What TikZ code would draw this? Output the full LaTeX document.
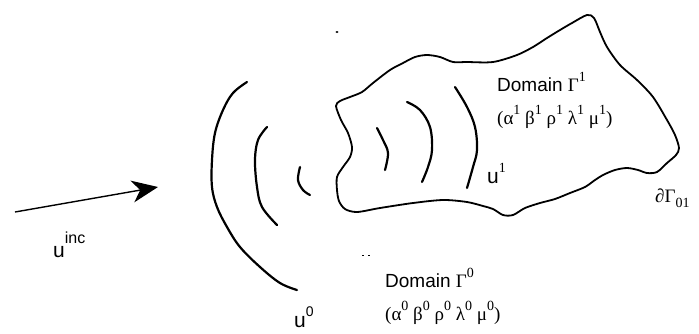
\documentclass[tikz,border=0pt]{standalone}
\usepackage{fontspec}
\setmainfont{Liberation Sans}
\newfontfamily\grk{Liberation Serif}
\usetikzlibrary{arrows.meta}
\newcommand\supx[1]{\raisebox{0.52em}{\fontsize{14}{14}\selectfont #1}}
\newcommand\subx[1]{\raisebox{-0.3em}{\fontsize{14}{14}\selectfont #1}}
\tikzset{
  outline/.style={line width=1.8pt, line join=round, line cap=round},
  wave/.style={line width=2.2pt, line cap=round},
  lbl/.style={inner sep=0pt, anchor=base west, font=\fontsize{19}{22}\selectfont},
  ulbl/.style={inner sep=0pt, anchor=base west, font=\fontsize{21}{24}\selectfont},
}
\begin{document}
\begin{tikzpicture}[x=1pt,y=-1pt]
\useasboundingbox (0,0) rectangle (699,333);
% Domain Gamma^1 outline
\draw[outline] plot[smooth cycle, tension=0.5] coordinates {
(336,106) (340,101) (350,97) (362,92) (373,83) (390,70) (403,63) (415,57)
(427,55) (440,57) (453,62) (467,62) (493,62) (517,55) (533,47) (547,38)
(560,30) (572,23) (587,15) (594,18) (600,32) (607,47) (620,65) (637,80)
(653,97) (667,120) (675,135) (679,148) (676,155) (667,163) (657,172) (647,173)
(638,170) (627,168) (615,170) (603,175) (595,180) (585,187) (570,193) (555,199)
(540,203) (525,208) (513,215) (503,215) (493,209) (483,206) (467,202) (443,200)
(413,203) (380,208) (357,212) (345,209) (339,201) (337,190) (337,177) (343,167)
(350,157) (352,147) (348,133) (341,120)};
% wave fronts outside
\draw[wave] plot[smooth, tension=0.6] coordinates {(247,82) (233,93) (223,110) (215,133) (212,160) (212,187) (217,207) (227,227) (240,247) (260,267) (280,283) (297,290)};
\draw[wave] plot[smooth, tension=0.6] coordinates {(267,127) (258,140) (255,160) (257,187) (262,207) (277,225)};
\draw[wave] plot[smooth, tension=0.6] coordinates {(300,167) (298,180) (303,190) (310,195)};
% wave fronts inside
\draw[wave] plot[smooth, tension=0.6] coordinates {(377,128) (383,140) (388,153) (385,170)};
\draw[wave] plot[smooth, tension=0.6] coordinates {(407,102) (420,110) (430,127) (432,150) (428,167) (422,182)};
\draw[wave] plot[smooth, tension=0.6] coordinates {(455,87) (467,107) (475,127) (477,150) (473,167) (467,188)};
% small marks
\fill (337,32) ellipse (1.6pt and 1pt);
\draw[line width=0.8pt] (362,255) -- (364,255) (368,255) -- (370,255);
% incident arrow
\coordinate (aS) at (15,212);
\coordinate (aE) at (158,187);
\draw[line width=1.4pt, -{Stealth[length=26pt,width=22pt,inset=8pt]}] (aS) -- (aE);
% labels
\node[ulbl] (uinc) at (53,257) {u\raisebox{0.62em}{\fontsize{16}{16}\selectfont inc}};
\node[ulbl] (u0) at (294,327) {u\supx{0}};
\node[ulbl] (u1) at (487,183) {u\supx{\grk 1}};
\node[lbl] (d1) at (497,91) {Domain {\grk Γ}\supx{\grk 1}};
\node[lbl] (p1) at (497,124) {\grk (α\supx{1} β\supx{1} ρ\supx{1} λ\supx{1} μ\supx{1})};
\node[lbl] (d0) at (385,287) {Domain {\grk Γ}\supx{\grk 0}};
\node[lbl] (p0) at (385,320) {\grk (α\supx{0} β\supx{0} ρ\supx{0} λ\supx{0} μ\supx{0})};
\node[lbl] (bd) at (655,202) {\grk ∂Γ\subx{01}};
\end{tikzpicture}
\end{document}
